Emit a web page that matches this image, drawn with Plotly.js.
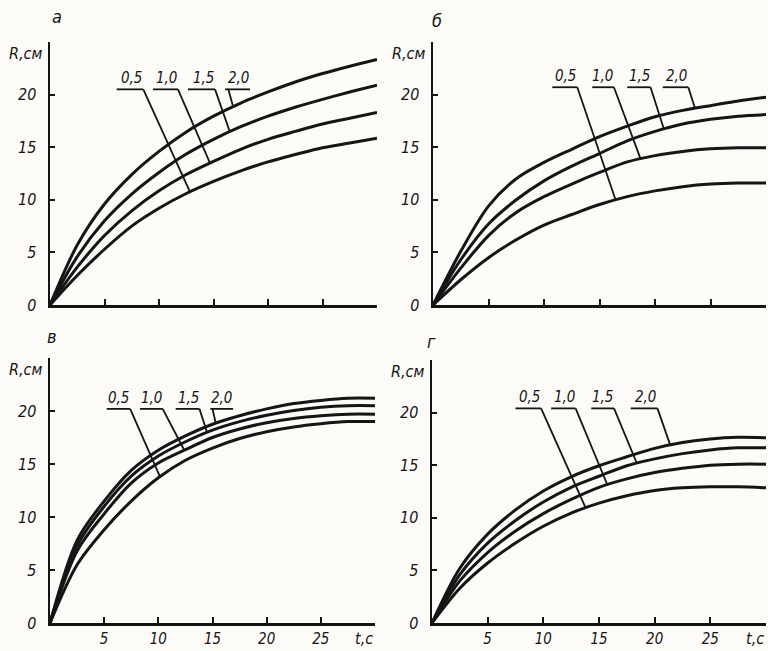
<!DOCTYPE html>
<html>
<head>
<meta charset="utf-8">
<script src="https://cdn.plot.ly/plotly-3.0.1.min.js"></script>
<style>
html,body{margin:0;padding:0;background:#fcfbf8;}
#chart{width:768px;height:651px;}
</style>
</head>
<body>
<div id="chart"></div>
<script>
// ---- data (t in seconds, R in cm) ----
const t = [0, 2.5, 5, 7.5, 10, 12.5, 15, 17.5, 20, 22.5, 25, 27.5, 30];
const seriesNames = ['0,5', '1,0', '1,5', '2,0'];
const xTickVals = [5, 10, 15, 20, 25, 30];
const xTickText = ['5', '10', '15', '20', '25', ''];
const yTickVals = [0, 5, 10, 15, 20, 25];
const yTickText = ['0', '5', '10', '15', '20', ''];
const panelLetters = ['а', 'б', 'в', 'г'];
const yTitle = 'R,см';
const xTitle = 't,c';

// panel а
const a05 = [0, 2.8, 5.3, 7.5, 9.2, 10.6, 11.75, 12.75, 13.6, 14.3, 14.95, 15.4, 15.85];
const a10 = [0, 3.6, 6.6, 8.95, 10.85, 12.4, 13.65, 14.8, 15.75, 16.5, 17.2, 17.75, 18.3];
const a15 = [0, 4.6, 8.0, 10.55, 12.6, 14.35, 15.75, 16.95, 17.95, 18.8, 19.55, 20.25, 20.9];
const a20 = [0, 5.7, 9.6, 12.4, 14.6, 16.45, 17.95, 19.2, 20.25, 21.2, 22.0, 22.7, 23.35];
// panel б
const b05 = [0, 2.4, 4.5, 6.2, 7.6, 8.6, 9.55, 10.3, 10.85, 11.25, 11.5, 11.6, 11.6];
const b10 = [0, 3.5, 6.6, 8.8, 10.3, 11.5, 12.6, 13.6, 14.2, 14.6, 14.85, 14.95, 14.95];
const b15 = [0, 4.3, 7.7, 10.0, 11.8, 13.2, 14.4, 15.6, 16.5, 17.2, 17.65, 17.95, 18.1];
const b20 = [0, 5.1, 9.4, 12.0, 13.55, 14.8, 16.0, 17.0, 17.9, 18.5, 18.95, 19.4, 19.75];
// panel в
const c05 = [0, 5.5, 8.8, 11.5, 13.7, 15.35, 16.5, 17.4, 18.05, 18.5, 18.8, 19.0, 19.0];
const c10 = [0, 6.8, 10.3, 13.2, 15.1, 16.35, 17.5, 18.3, 18.9, 19.3, 19.55, 19.7, 19.7];
const c15 = [0, 7.3, 11.0, 13.85, 15.75, 17.1, 18.2, 19.0, 19.6, 20.05, 20.35, 20.5, 20.5];
const c20 = [0, 7.8, 11.5, 14.4, 16.3, 17.65, 18.75, 19.55, 20.2, 20.7, 21.0, 21.2, 21.2];
// panel г
const d05 = [0, 3.3, 5.7, 7.6, 9.2, 10.45, 11.4, 12.1, 12.6, 12.85, 12.95, 12.95, 12.85];
const d10 = [0, 4.0, 6.7, 8.75, 10.4, 11.75, 12.9, 13.7, 14.3, 14.7, 15.0, 15.1, 15.1];
const d15 = [0, 4.6, 7.6, 9.75, 11.5, 12.9, 13.95, 14.95, 15.6, 16.1, 16.45, 16.65, 16.65];
const d20 = [0, 5.2, 8.45, 10.75, 12.55, 13.9, 14.95, 15.8, 16.6, 17.15, 17.5, 17.65, 17.6];

// ---- layout configuration (pixel boxes and label placement) ----
const W = 768, H = 651;
const panels = [
  {xa:'x',  ya:'y',  px:[50, 377], py:[305, 42],  bottom:false, series:[a05,a10,a15,a20], letter:[57, 17],
   lab:{R:20.5, u0:[6.12, 9.45, 12.66, 16.06], u1:[8.56, 11.74, 15.14, 18.35], from:[8.56, 11.74, 15.14, 16.36], to:[12.84, 14.68, 16.5, 16.8]}},
  {xa:'x2', ya:'y2', px:[433, 766], py:[305, 42],  bottom:false, series:[b05,b10,b15,b20], letter:[437, 20],
   lab:{R:20.7, u0:[10.75, 14.35, 17.5, 20.7], u1:[13.0, 16.3, 19.6, 23.0], from:[13.0, 16.3, 19.6, 23.0], to:[16.45, 18.7, 20.8, 23.6]}},
  {xa:'x3', ya:'y3', px:[50, 375], py:[623, 358],  bottom:true,  series:[c05,c10,c15,c20], letter:[52, 336],
   lab:{R:20.2, u0:[5.23, 8.3, 11.6, 14.8], u1:[7.4, 10.4, 13.8, 16.9], from:[7.4, 10.4, 13.8, 15.0], to:[10.15, 12.4, 14.5, 15.3]}},
  {xa:'x4', ya:'y4', px:[432, 766], py:[623, 360], bottom:true,  series:[d05,d10,d15,d20], letter:[431, 342],
   lab:{R:20.4, u0:[7.5, 10.7, 14.3, 17.85], u1:[9.8, 12.9, 16.35, 20.25], from:[9.8, 12.9, 16.35, 20.25], to:[13.8, 15.75, 18.4, 21.4]}}
];

function interp(xs, ys, x) {
  for (let i = 1; i < xs.length; i++) {
    if (x <= xs[i]) {
      const f = (x - xs[i-1]) / (xs[i] - xs[i-1]);
      return ys[i-1] + f * (ys[i] - ys[i-1]);
    }
  }
  return ys[ys.length - 1];
}

const INK = '#151515';
const FONT = '"DejaVu Sans Condensed", "Liberation Sans Narrow", "Arial Narrow", sans-serif';

const traces = [];
const layout = {
  width: W, height: H,
  margin: {l:0, r:0, t:0, b:0},
  paper_bgcolor: '#fcfbf8', plot_bgcolor: '#fcfbf8',
  showlegend: false, hovermode: false,
  font: {family: FONT, size: 16, color: INK, style: 'italic'},
  annotations: [], shapes: []
};

panels.forEach((p, k) => {
  const xn = p.xa === 'x' ? 'xaxis' : 'xaxis' + p.xa.slice(1);
  const yn = p.ya === 'y' ? 'yaxis' : 'yaxis' + p.ya.slice(1);
  layout[xn] = {
    domain: [p.px[0] / W, p.px[1] / W], range: [0, 30], anchor: p.ya,
    showline: true, linewidth: 2.5, linecolor: INK, mirror: false,
    showgrid: false, zeroline: false,
    ticks: 'inside', ticklen: 6, tickwidth: 2, tickcolor: INK,
    tickmode: 'array', tickvals: xTickVals, ticktext: xTickText,
    showticklabels: p.bottom, ticklabelstandoff: 0,
    tickfont: {family: FONT, size: 15, color: INK, style: 'italic'},
    fixedrange: true
  };
  layout[yn] = {
    domain: [1 - p.py[0] / H, 1 - p.py[1] / H], range: [0, 25], anchor: p.xa,
    showline: true, linewidth: 2.5, linecolor: INK,
    showgrid: false, zeroline: false,
    ticks: 'inside', ticklen: 5, tickwidth: 2, tickcolor: INK,
    tickmode: 'array', tickvals: yTickVals, ticktext: yTickText,
    ticklabelstandoff: 8,
    tickfont: {family: FONT, size: 16, color: INK, style: 'italic'},
    fixedrange: true
  };

  p.series.forEach((ys, j) => {
    traces.push({
      type: 'scatter', mode: 'lines', x: t, y: ys, name: seriesNames[j],
      xaxis: p.xa, yaxis: p.ya,
      line: {color: INK, width: 3, shape: 'spline', smoothing: 0.9}
    });
    const L = p.lab;
    // underline
    layout.shapes.push({type:'line', xref:p.xa, yref:p.ya, x0:L.u0[j], x1:L.u1[j], y0:L.R, y1:L.R,
      line:{color:INK, width:1.8}});
    // leader to curve
    layout.shapes.push({type:'line', xref:p.xa, yref:p.ya, x0:L.from[j], y0:L.R, x1:L.to[j], y1:interp(t, ys, L.to[j]),
      line:{color:INK, width:1.8}});
    layout.annotations.push({text: seriesNames[j], xref:p.xa, yref:p.ya, x:L.u1[j], y:L.R,
      xanchor:'right', yanchor:'bottom', showarrow:false, borderpad:0, yshift:1,
      font:{family:FONT, size:15, color:INK, style:'italic'}});
  });

  // axis title R,см
  layout.annotations.push({text: yTitle, xref: p.xa + ' domain', yref: p.ya, x: 0, y: 23.9,
    xanchor:'right', yanchor:'middle', xshift:-6, showarrow:false,
    font:{family:FONT, size:16, color:INK, style:'italic'}});
  // t,c
  if (p.bottom) {
    layout.annotations.push({text: xTitle, xref: p.xa, yref: p.ya + ' domain', x: 30, y: 0,
      xanchor:'right', yanchor:'top', yshift:-4, showarrow:false,
      font:{family:FONT, size:16, color:INK, style:'italic'}});
  }
  // panel letter
  layout.annotations.push({text: panelLetters[k], xref:'paper', yref:'paper',
    x: p.letter[0] / W, y: 1 - p.letter[1] / H, xanchor:'center', yanchor:'middle', showarrow:false,
    font:{family:FONT, size:18, color:INK, style:'italic'}});
});

Plotly.newPlot('chart', traces, layout, {displayModeBar: false, staticPlot: true});
</script>
</body>
</html>
